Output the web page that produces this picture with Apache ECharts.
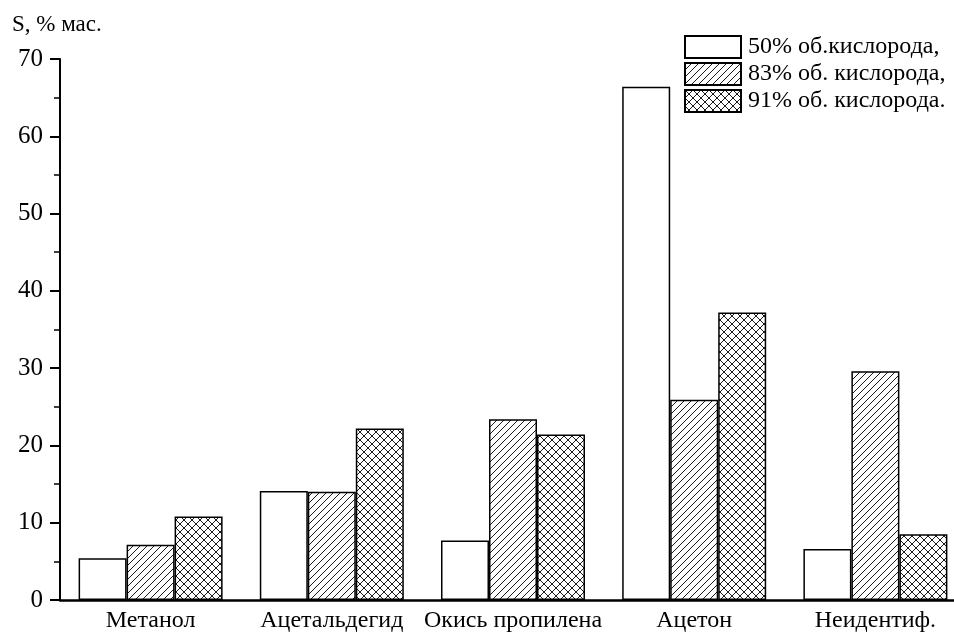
<!DOCTYPE html>
<html><head><meta charset="utf-8">
<script src="https://cdn.jsdelivr.net/npm/echarts@6/dist/echarts.min.js"></script>
<style>html,body{margin:0;padding:0;background:#fff;overflow:hidden;width:954px;height:634px}#c{width:966px;height:634px}</style>
</head><body><div id="c"></div>
<script>
const categories = ['Метанол', 'Ацетальдегид', 'Окись пропилена', 'Ацетон', 'Неидентиф.'];
const seriesNames = ['50% об.кислорода,', '83% об. кислорода,', '91% об. кислорода.'];
const s50 = [5.4, 14.1, 7.7, 66.4, 6.6];
const s83 = [7.15, 14.0, 23.4, 25.9, 29.6];
const s91 = [10.8, 22.2, 21.4, 37.2, 8.5];
const yTicks = [0, 10, 20, 30, 40, 50, 60, 70];

function makePattern(kind) {
  const p = kind === 'cross' ? 8 : 7;
  const c = document.createElement('canvas');
  c.width = p; c.height = p;
  const g = c.getContext('2d');
  g.fillStyle = '#fff'; g.fillRect(0, 0, p, p);
  g.strokeStyle = '#000'; g.lineWidth = 0.9;
  const fwd = () => {
    g.beginPath();
    g.moveTo(-1, p + 1); g.lineTo(p + 1, -1);
    g.moveTo(-1, 1); g.lineTo(1, -1);
    g.moveTo(p - 1, p + 1); g.lineTo(p + 1, p - 1);
    g.stroke();
  };
  const back = () => {
    g.beginPath();
    g.moveTo(-1, -1); g.lineTo(p + 1, p + 1);
    g.moveTo(p - 1, -1); g.lineTo(p + 1, 1);
    g.moveTo(-1, p - 1); g.lineTo(1, p + 1);
    g.stroke();
  };
  fwd();
  if (kind === 'cross') back();
  return { image: c, repeat: 'repeat' };
}

const font = "'Liberation Serif', 'Times New Roman', serif";
const chart = echarts.init(document.getElementById('c'), null, { renderer: 'canvas' });
const colors = ['#ffffff', makePattern('hatch'), makePattern('cross')];
const datas = [s50, s83, s91];

chart.setOption({
  animation: false,
  backgroundColor: '#fff',
  title: {
    text: 'S, % мас.', left: 7, top: 8,
    textStyle: { fontFamily: font, fontSize: 23, fontWeight: 'normal', color: '#000' }
  },
  legend: {
    left: 684, top: 35, orient: 'vertical', itemWidth: 56, itemHeight: 22, itemGap: 3,
    padding: 0,
    data: seriesNames,
    textStyle: { fontFamily: font, fontSize: 24, lineHeight: 22, color: '#000', padding: [0, 0, 0, 2] },
    icon: 'rect'
  },
  grid: { left: 60, right: 0, top: 59, bottom: 34, containLabel: false },
  xAxis: {
    type: 'category', data: categories,
    axisLine: { lineStyle: { color: '#000', width: 2.5 } },
    axisTick: { show: false },
    axisLabel: { fontFamily: font, fontSize: 24, color: '#000', margin: 9, interval: 0 }
  },
  yAxis: {
    type: 'value', min: yTicks[0], max: yTicks[yTicks.length - 1], interval: 10,
    axisLine: { show: true, lineStyle: { color: '#000', width: 2 } },
    axisTick: { show: true, length: 10, lineStyle: { color: '#000', width: 2 } },
    minorTick: { show: true, splitNumber: 2, length: 6, lineStyle: { color: '#000', width: 1.5 } },
    splitLine: { show: false },
    axisLabel: { fontFamily: font, fontSize: 25, color: '#000', margin: 17 }
  },
  series: datas.map((d, i) => ({
    name: seriesNames[i], type: 'bar', data: d, barWidth: 48, barGap: '0%',
    itemStyle: { color: colors[i], borderColor: '#000', borderWidth: 1.5 }
  }))
});
</script></body></html>
